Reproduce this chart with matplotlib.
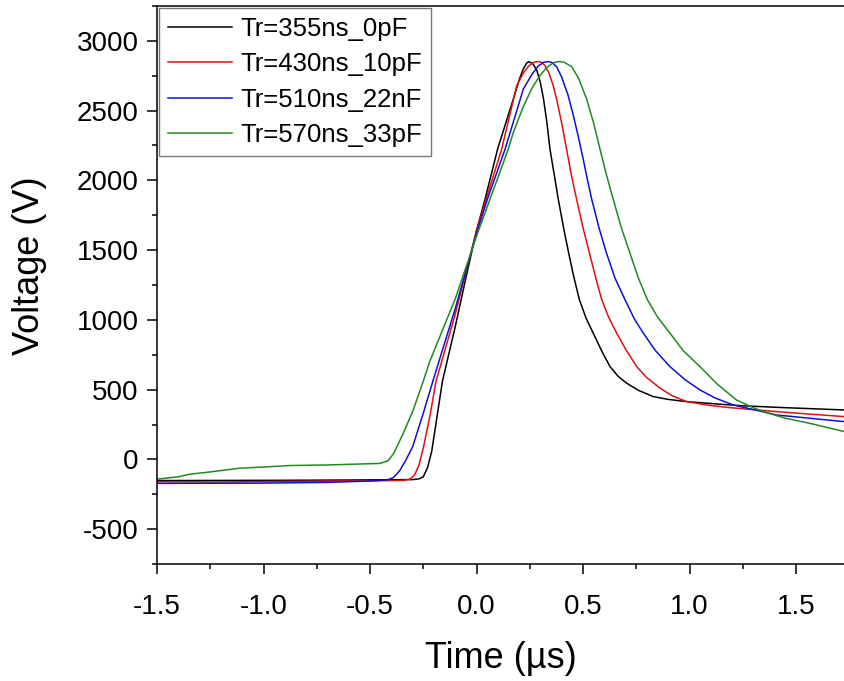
import matplotlib
matplotlib.use('Agg')
import matplotlib.pyplot as plt
from matplotlib.ticker import MultipleLocator, AutoMinorLocator, FormatStrFormatter

plt.rcParams['font.family'] = ['Liberation Sans', 'DejaVu Sans']
plt.rcParams['axes.unicode_minus'] = False

labels = ['Tr=355ns_0pF', 'Tr=430ns_10pF', 'Tr=510ns_22nF', 'Tr=570ns_33pF']
colors = ['#000000', '#e01010', '#1010d0', '#208a20']

# time in us, voltage in V
t_0pF = [-1.5, -1.2, -0.9, -0.6, -0.4, -0.3, -0.27, -0.25, -0.23, -0.21, -0.19, -0.16,
         -0.10, -0.05, 0.0, 0.04, 0.10, 0.173, 0.20, 0.22, 0.235, 0.246, 0.265, 0.283,
         0.30, 0.314, 0.33, 0.345, 0.365, 0.384, 0.41, 0.43, 0.455, 0.483, 0.515, 0.548,
         0.59, 0.627, 0.665, 0.705, 0.76, 0.83, 0.90, 0.987, 1.175, 1.24, 1.41, 1.73]
v_0pF = [-152, -151, -150, -148, -146, -145, -140, -125, -60, 60, 260, 560,
         950, 1300, 1640, 1864, 2230, 2583, 2720, 2800, 2840, 2851, 2835, 2790,
         2700, 2590, 2420, 2223, 2040, 1864, 1650, 1500, 1320, 1145, 1010, 905,
         770, 665, 595, 546, 495, 450, 430, 414, 392, 385, 373, 354]

t_10pF = [-1.5, -1.2, -0.9, -0.6, -0.4, -0.34, -0.31, -0.29, -0.27, -0.25, -0.22, -0.19,
          -0.10, 0.0, 0.045, 0.118, 0.189, 0.22, 0.245, 0.267, 0.285, 0.303, 0.32, 0.34,
          0.36, 0.376, 0.40, 0.423, 0.445, 0.47, 0.50, 0.53, 0.56, 0.588, 0.62, 0.658,
          0.70, 0.752, 0.80, 0.862, 0.92, 0.987, 1.08, 1.175, 1.41, 1.73]
v_10pF = [-160, -162, -158, -155, -152, -150, -140, -110, -40, 80, 300, 560,
          1040, 1640, 1864, 2223, 2679, 2770, 2820, 2845, 2852, 2848, 2825, 2770,
          2680, 2583, 2410, 2223, 2040, 1864, 1660, 1480, 1300, 1145, 1020, 905,
          790, 665, 585, 510, 455, 414, 390, 373, 342, 306]

t_22nF = [-1.5, -1.0, -0.7, -0.5, -0.42, -0.39, -0.36, -0.33, -0.30, -0.25, -0.203,
          -0.10, 0.0, 0.051, 0.134, 0.22, 0.26, 0.29, 0.314, 0.335, 0.355, 0.376, 0.40,
          0.43, 0.455, 0.48, 0.501, 0.52, 0.541, 0.575, 0.61, 0.65, 0.697, 0.74, 0.783,
          0.84, 0.908, 0.98, 1.049, 1.12, 1.206, 1.41, 1.73]
v_22nF = [-172, -170, -165, -155, -148, -130, -80, 0, 90, 330, 570,
          1080, 1620, 1864, 2223, 2655, 2760, 2820, 2845, 2852, 2845, 2815, 2740,
          2610, 2463, 2300, 2152, 2010, 1864, 1660, 1480, 1300, 1145, 1010, 905,
          780, 665, 570, 498, 440, 390, 318, 270]

t_33pF = [-1.5, -1.4, -1.345, -1.25, -1.11, -1.0, -0.876, -0.7, -0.453, -0.415, -0.39,
          -0.37, -0.34, -0.297, -0.25, -0.22, -0.10, 0.0, 0.063, 0.149, 0.173, 0.22,
          0.26, 0.298, 0.33, 0.361, 0.385, 0.41, 0.447, 0.48, 0.517, 0.55, 0.58, 0.61,
          0.642, 0.68, 0.72, 0.76, 0.802, 0.85, 0.908, 0.97, 1.049, 1.13, 1.221, 1.30,
          1.362, 1.45, 1.566, 1.73]
v_33pF = [-142, -125, -106, -90, -63, -55, -44, -40, -29, -10, 40,
          102, 200, 354, 560, 700, 1150, 1600, 1864, 2223, 2344, 2530,
          2660, 2751, 2810, 2843, 2852, 2848, 2815, 2730, 2583, 2410, 2223, 2040,
          1864, 1660, 1480, 1300, 1145, 1020, 905, 780, 665, 540, 425, 370,
          335, 295, 258, 198]

series = [(t_0pF, v_0pF), (t_10pF, v_10pF), (t_22nF, v_22nF), (t_33pF, v_33pF)]

W, H = 845, 681
fig = plt.figure(figsize=(W / 100, H / 100), dpi=100)
ax = fig.add_axes([157 / W, 1 - 564 / H, 1 - 157 / W, (564 - 6) / H])

for (t, v), c, lab in zip(series, colors, labels):
    ax.plot(t, v, color=c, lw=1.1, label=lab)

ax.set_xlim(-1.5, 1.73)
ax.set_ylim(-750, 3250)
ax.xaxis.set_major_locator(MultipleLocator(0.5))
ax.yaxis.set_major_locator(MultipleLocator(500))
ax.xaxis.set_minor_locator(AutoMinorLocator(2))
ax.yaxis.set_minor_locator(AutoMinorLocator(2))
ax.xaxis.set_major_formatter(FormatStrFormatter('%.1f'))

ax.spines['right'].set_visible(False)
for s in ['left', 'bottom', 'top']:
    ax.spines[s].set_linewidth(1.1)
ax.tick_params(which='major', direction='out', length=7.2, width=1.1, labelsize=20, pad=6)
ax.tick_params(which='minor', direction='out', length=3.6, width=1.1)
ax.tick_params(axis='x', which='major', pad=14.5)

ax.set_xlabel('Time (µs)', fontsize=26, labelpad=15)
ax.set_ylabel('Voltage (V)', fontsize=26)
ax.yaxis.set_label_coords(-0.160, 0.534)

leg = ax.legend(loc='upper left', bbox_to_anchor=(159 / W, 1 - 8 / H), bbox_transform=fig.transFigure,
                borderaxespad=0, fontsize=18.5, frameon=True, fancybox=False, borderpad=0.35,
                labelspacing=0.44, handlelength=2.5, handletextpad=0.3)
leg.get_frame().set_edgecolor('#555555')
leg.get_frame().set_linewidth(1.0)

fig.savefig('out.png', dpi=100)
